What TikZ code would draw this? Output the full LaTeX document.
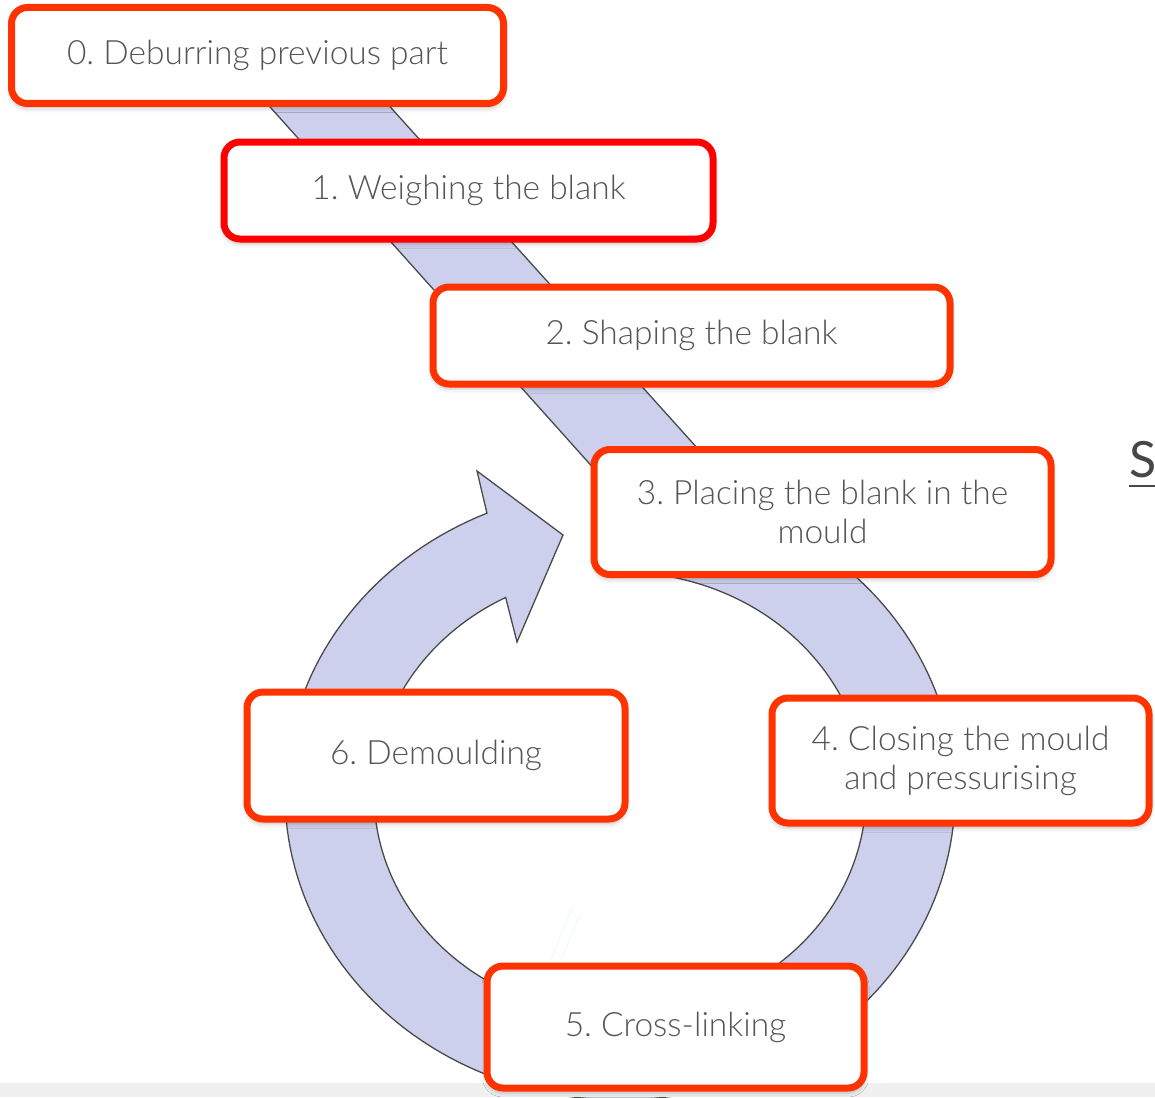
\documentclass[tikz,border=0pt]{standalone}
\usepackage{fontspec}
\setmainfont{Lato Light}
\newfontfamily\headfont{Lato}
\usetikzlibrary{shadows.blur}
\definecolor{boxred}{HTML}{FF3300}
\definecolor{purered}{HTML}{FF0000}
\definecolor{bandfill}{HTML}{CDD0EC}
\definecolor{bandline}{HTML}{4A4A4A}
\definecolor{textgray}{HTML}{555555}
\frenchspacing
\begin{document}
\begin{tikzpicture}[x=1pt,y=-1pt,
  stepbox/.style={draw=boxred, line width=7pt, rounded corners=16pt, fill=white,
    blur shadow={shadow xshift=0pt, shadow yshift=-4pt, shadow blur radius=5pt, shadow opacity=30},
    text=textgray, font=\fontsize{33.5}{39}\selectfont, align=center, inner sep=0pt},
  band/.style={fill=bandfill, draw=bandline, line width=1.3pt, line join=miter},
  faint/.style={draw=black!12!cyan!8!white, line width=0.8pt}]
\useasboundingbox (0,0) rectangle (1155,1097);
\clip (0,0) rectangle (1155,1097);
% straight band
\draw[band] (228,60) -- (348,60) -- (744,500) -- (622,500) -- cycle;
% circular arrow
\draw[band] plot[domain=-80:246.6,samples=180,variable=\t] ({620+335*cos(\t)},{794+306*sin(\t)})
  -- (477,471) -- (563,535) -- (517,642)
  -- plot[domain=242.3:-80,samples=180,variable=\t] ({620+246*cos(\t)},{794+222*sin(\t)}) -- cycle;
% bottom strip
\fill[black!6] (0,1083) rectangle (1155,1097);
% faint lines
\draw[faint] (572,907) -- (550,962);
\draw[faint] (580,915) -- (560,962);
% boxes
\node[stepbox, minimum width=492pt, minimum height=96pt] (s0) at (257.5,55.5) {0. Deburring previous part};
\node[stepbox, draw=purered, minimum width=489pt, minimum height=97pt] (s1) at (468.5,190.5) {1. Weighing the blank};
\node[stepbox, minimum width=517pt, minimum height=97pt] (s2) at (691.5,335.5) {2. Shaping the blank};
\node[stepbox, minimum width=457pt, minimum height=125pt] (s3) at (822.5,512) {3. Placing the blank in the\\mould};
\node[stepbox, minimum width=377pt, minimum height=125pt] (s4) at (960.5,760.5) {4. Closing the mould\\and pressurising};
\node[stepbox, minimum width=377pt, minimum height=122pt] (s5) at (675.5,1027) {5. Cross-linking};
\node[stepbox, minimum width=378pt, minimum height=127pt] (s6) at (436,755.5) {6. Demoulding};
% partial heading at right edge
\node[anchor=base west, inner sep=0pt, text=black!72, font=\headfont\fontsize{50}{50}\selectfont] (hd) at (1129,477) {S};
\draw[black!72, line width=2pt] (1129,486) -- (1160,486);
\end{tikzpicture}
\end{document}
